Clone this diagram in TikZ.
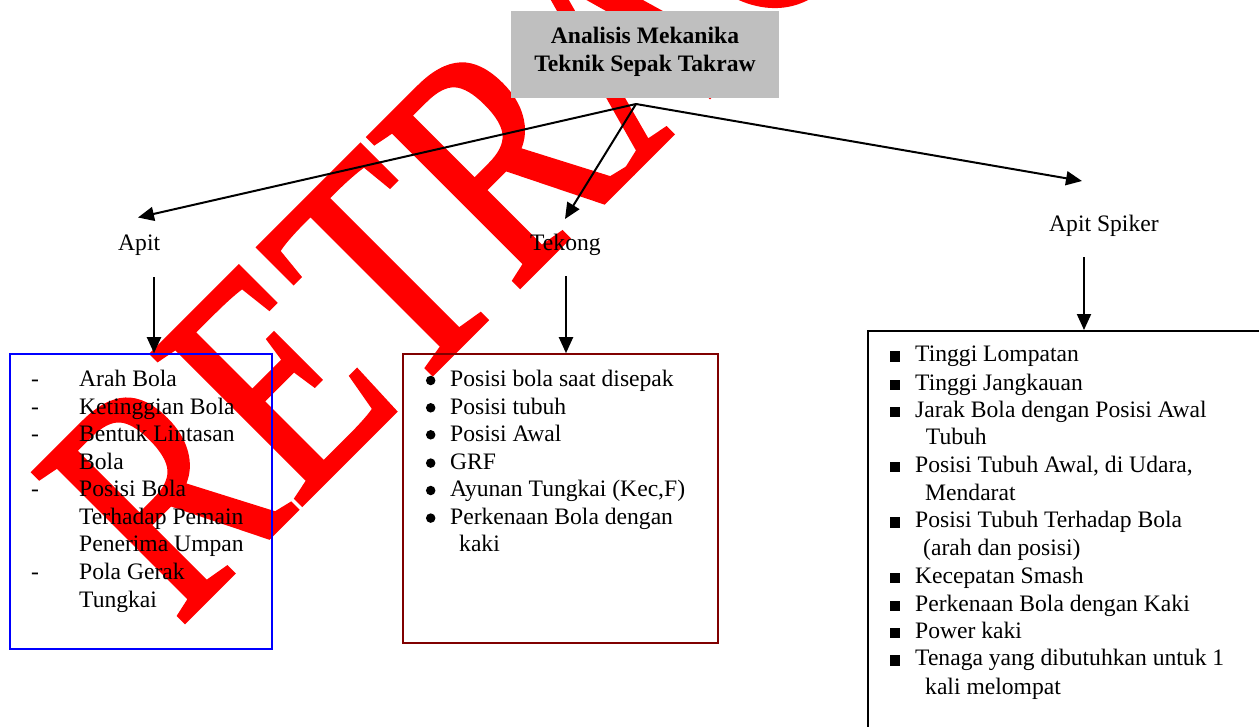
\documentclass[tikz,border=0pt]{standalone}
\usepackage{fontspec}
\setmainfont{Liberation Serif}
\newfontfamily\wmfont[FakeStretch=0.772,FakeBold=1.2]{Liberation Serif}
\usetikzlibrary{arrows.meta}
\definecolor{titlegray}{RGB}{191,191,191}
\definecolor{boxred}{RGB}{128,0,0}
\definecolor{wmred}{RGB}{255,0,0}
\tikzset{
  txt/.style={anchor=base west, inner sep=0pt, font=\fontsize{23.6}{27.6}\selectfont},
  lbl/.style={anchor=base west, inner sep=0pt, font=\fontsize{23.6}{27.6}\selectfont},
  conn/.style={line width=2pt, -{Triangle[length=16pt,width=14pt]}},
  plainbox/.style={inner sep=0pt, line width=1.6pt},
  dot/.style={circle, fill=black, inner sep=0pt, minimum size=9.5pt},
  sq/.style={rectangle, fill=black, inner sep=0pt, minimum size=10.5pt},
}
\begin{document}
\begin{tikzpicture}[x=1pt,y=-1pt]
\useasboundingbox (0,0) rectangle (1259,726);
% watermark (behind everything)
\begin{scope}[shift={(178.7,628)}]
\node[rotate=45, anchor=base west, inner sep=0pt, text=wmred,
      font=\fontsize{325}{325}\wmfont] (wm) at (0,0) {RETRACTED};
\end{scope}
% title
\node[fill=titlegray, minimum width=268pt, minimum height=87pt, inner sep=0pt] (title) at (645,54.5) {};
\node[anchor=north, inner sep=0pt, align=center,
      font=\fontsize{23.6}{28.3}\selectfont\bfseries] (titletext) at (645,26.7)
      {Analisis Mekanika\\Teknik Sepak Takraw};
% boxes
\node[draw=blue, plainbox, minimum width=262pt, minimum height=295pt] (apitbox) at (141,501.5) {};
\node[draw=boxred, plainbox, minimum width=315pt, minimum height=289pt] (tekongbox) at (560.5,498.5) {};
\node[draw=black, plainbox, minimum width=400pt, minimum height=410pt, anchor=north west] (spikerbox) at (867,330) {};
% labels
\node[lbl] (apit) at (118,250.5) {Apit};
\node[lbl] (tekong) at (530,250.5) {Tekong};
\node[lbl] (spiker) at (1049,231.7) {Apit Spiker};
% connectors
\coordinate (apex) at (636,104);
\coordinate (apittip) at (138,217.5);
\coordinate (tekongtip) at (565,219);
\coordinate (spikertip) at (1082,181);
\draw[conn] (apex) -- (apittip);
\draw[conn] (apex) -- (tekongtip);
\draw[conn] (apex) -- (spikertip);
\coordinate (apitdown) at (154,277);
\coordinate (tekongdown) at (566,276);
\coordinate (spikerdown) at (1084,257);
\draw[conn] (apitdown) -- (apitdown |- apitbox.north);
\draw[conn] (tekongdown) -- (tekongdown |- tekongbox.north);
\draw[conn] (spikerdown) -- (spikerdown |- spikerbox.north);
% Apit list
\foreach \y/\t [count=\i] in {386.7/Arah Bola, 414.3/Ketinggian Bola, 441.7/Bentuk Lintasan,
   469.3/Bola, 496.7/Posisi Bola, 524.3/Terhadap Pemain, 551.7/Penerima Umpan,
   579.3/Pola Gerak, 607.3/Tungkai}
  \node[txt] (a\i) at (79,\y) {\t};
\foreach \y [count=\i] in {386.7,414.3,441.7,496.7,579.3}
  \node[txt] (ad\i) at (31,\y) {-};
% Tekong list
\foreach \y/\t [count=\i] in {386.7/Posisi bola saat disepak, 414/Posisi tubuh, 441/Posisi Awal,
   469.3/GRF, 496.7/{Ayunan Tungkai (Kec,F)}, 524.3/Perkenaan Bola dengan}
  {\node[txt] (t\i) at (450,\y) {\t};
   \node[dot] (td\i) at (430.7,\y-6.2) {};}
\node[txt] (t7) at (459,551.7) {kaki};
% Spiker list
\foreach \y/\t [count=\i] in {361.7/Tinggi Lompatan, 390/Tinggi Jangkauan,
   417.3/Jarak Bola dengan Posisi Awal, 472.3/{Posisi Tubuh Awal, di Udara,},
   527.7/Posisi Tubuh Terhadap Bola, 583.3/Kecepatan Smash,
   611/Perkenaan Bola dengan Kaki, 638.3/Power kaki, 665.7/Tenaga yang dibutuhkan untuk 1}
  {\node[txt] (s\i) at (915,\y) {\t};
   \node[sq] (sd\i) at (895,\y-5.2) {};}
\node[txt] (s10) at (925.7,444) {Tubuh};
\node[txt] (s11) at (925,500) {Mendarat};
\node[txt] (s12) at (923,555) {(arah dan posisi)};
\node[txt] (s13) at (925,694.3) {kali melompat};
\end{tikzpicture}
\end{document}
